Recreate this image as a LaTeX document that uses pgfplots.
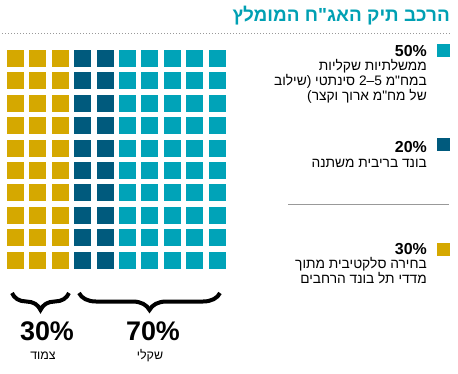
\documentclass[border=0pt]{standalone}
\usepackage{fontspec}
\setmainfont{Liberation Sans}
\newfontfamily\heb[Script=Hebrew]{Liberation Sans}
\TeXXeTstate=1
\usepackage{pgfplots}
\pgfplotsset{compat=1.18}
\usetikzlibrary{decorations.pathreplacing}
\definecolor{lteal}{HTML}{00A3B8}
\definecolor{dteal}{HTML}{005A7D}
\definecolor{gold}{HTML}{D5A800}
\definecolor{ttl}{HTML}{00A0B3}
\newcommand{\R}[1]{\heb\beginR #1\endR}
\begin{document}
\begin{tikzpicture}[x=1bp,y=1bp]
\useasboundingbox (0,0) rectangle (458,373);
\begin{axis}[at={(4.3bp,325.7bp)}, anchor=north west, scale only axis,
  width=224bp, height=224bp, xmin=-0.5, xmax=9.5, ymin=-0.5, ymax=9.5,
  hide axis, clip=false]
\addplot[only marks, mark=square*, mark size=8bp, mark options={fill=gold, draw=gold, line width=1bp}] coordinates {
(0,0)(0,1)(0,2)(0,3)(0,4)(0,5)(0,6)(0,7)(0,8)(0,9)
(1,0)(1,1)(1,2)(1,3)(1,4)(1,5)(1,6)(1,7)(1,8)(1,9)
(2,0)(2,1)(2,2)(2,3)(2,4)(2,5)(2,6)(2,7)(2,8)(2,9)};
\addplot[only marks, mark=square*, mark size=8bp, mark options={fill=dteal, draw=dteal, line width=1bp}] coordinates {
(3,0)(3,1)(3,2)(3,3)(3,4)(3,5)(3,6)(3,7)(3,8)(3,9)
(4,0)(4,1)(4,2)(4,3)(4,4)(4,5)(4,6)(4,7)(4,8)(4,9)};
\addplot[only marks, mark=square*, mark size=8bp, mark options={fill=lteal, draw=lteal, line width=1bp}] coordinates {
(5,0)(5,1)(5,2)(5,3)(5,4)(5,5)(5,6)(5,7)(5,8)(5,9)
(6,0)(6,1)(6,2)(6,3)(6,4)(6,5)(6,6)(6,7)(6,8)(6,9)
(7,0)(7,1)(7,2)(7,3)(7,4)(7,5)(7,6)(7,7)(7,8)(7,9)
(8,0)(8,1)(8,2)(8,3)(8,4)(8,5)(8,6)(8,7)(8,8)(8,9)
(9,0)(9,1)(9,2)(9,3)(9,4)(9,5)(9,6)(9,7)(9,8)(9,9)};
\end{axis}
% title
\node[anchor=base east, inner sep=0, text=ttl, font=\fontsize{19}{22}\selectfont\bfseries] at (450,352) {\R{הרכב תיק האג"ח המומלץ}};
\draw[gray!80, line width=0.8bp, dash pattern=on 0.8bp off 2.2bp] (2,340) -- (450,340);
% legend
\fill[lteal] (437,316) rectangle (450,329);
\fill[dteal] (437,222) rectangle (450,235);
\fill[gold] (437,117) rectangle (450,130);
\begin{scope}[every node/.style={anchor=base east, inner sep=0, font=\fontsize{13.8}{16}\selectfont}]
\node[font=\fontsize{16}{18}\selectfont\bfseries] at (427,317) {50\%};
\node at (427,303) {\R{ממשלתיות שקליות}};
\node at (427,288) {\R{במח"מ \beginL 5–2\endL{} סינתטי (שילוב}};
\node at (427,273) {\R{של מח"מ ארוך וקצר)}};
\node[font=\fontsize{16}{18}\selectfont\bfseries] at (427,221) {20\%};
\node at (427,206) {\R{בונד בריבית משתנה}};
\node[font=\fontsize{16}{18}\selectfont\bfseries] at (427,119) {30\%};
\node at (427,105) {\R{בחירה סלקטיבית מתוך}};
\node at (427,90) {\R{מדדי תל בונד הרחבים}};
\end{scope}
\draw[gray!80, line width=0.8bp] (288,169) -- (449,169);
% braces
\draw[line width=4bp, decorate, decoration={brace, amplitude=17bp}] (69,80) -- (12,80);
\draw[line width=4bp, decorate, decoration={brace, amplitude=17bp}] (220,80) -- (79,80);
\node[anchor=base, inner sep=0, font=\fontsize{27}{30}\selectfont\bfseries] at (47,33) {30\%};
\node[anchor=base, inner sep=0, font=\fontsize{27}{30}\selectfont\bfseries] at (153,33) {70\%};
\node[anchor=base, inner sep=0, font=\fontsize{12.5}{14}\selectfont] at (43,14) {\R{צמוד}};
\node[anchor=base, inner sep=0, font=\fontsize{12.5}{14}\selectfont] at (150,14) {\R{שקלי}};
\end{tikzpicture}
\end{document}
